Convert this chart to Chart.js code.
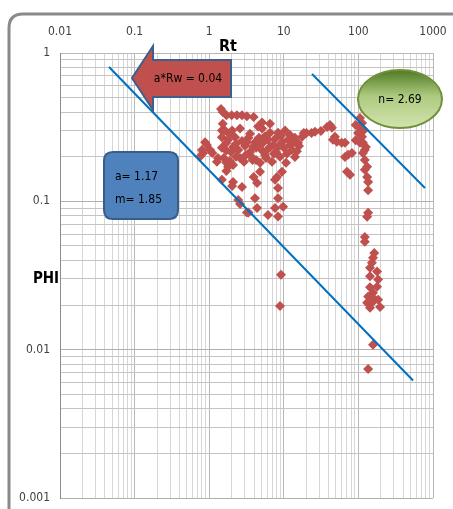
<!DOCTYPE html>
<html>
<head>
<meta charset="utf-8">
<title>Pickett plot</title>
<script src="https://cdn.jsdelivr.net/npm/chart.js@4/dist/chart.umd.min.js"></script>
<style>
  html, body { margin: 0; padding: 0; background: #fff; overflow: hidden; }
  #wrap { width: 453px; height: 509px; }
</style>
</head>
<body>
<div id="wrap"><canvas id="pickett" width="453" height="509"></canvas></div>
<script>
// Pickett plot: resistivity (Rt) vs porosity (PHI), both log
const FONT = '"Liberation Sans Narrow", "DejaVu Sans Condensed", "Liberation Sans", sans-serif';

const decadesX = [0.01, 0.1, 1, 10, 100, 1000];
const decadesY = [0.001, 0.01, 0.1, 1];
const multiples = [1, 2, 3, 4, 5, 6, 7, 8, 9];

// log data points
const rtValues = [
  1.44, 1.52, 1.70, 2.0, 2.35, 2.75, 3.2, 3.95, 1.52, 1.48,
  0.88, 0.93, 0.80, 0.83, 1.03, 1.10, 0.75,
  1.63, 2.03, 2.59, 4.52, 5.11, 6.53, 8.36, 10.4, 12.1,
  1.48, 1.79, 2.22, 2.75, 3.36, 4.11, 5.60, 6.14, 7.62, 9.46, 11.4, 14.1,
  1.48, 1.69, 2.09, 2.45, 3.02, 3.52, 4.25, 5.11, 6.53, 7.85, 10.0, 12.9,
  1.57, 1.90, 2.29, 2.93, 3.81, 4.80, 5.77, 6.95, 8.89, 10.7,
  1.85, 2.29, 3.52, 4.52, 7.2, 8.6, 12.1, 5.6, 3.1, 2.59,
  1.69, 1.96, 3.21, 3.87, 4.65, 5.26, 5.96, 7.39, 9.17, 11.0, 13.3, 16.0, 6.53, 5.11, 4.25, 2.09,
  1.31, 1.27, 1.70, 1.79, 1.70, 1.48, 2.09, 2.03, 2.75, 2.45, 2.59, 3.2,
  3.81, 4.80, 3.95, 4.38, 8.1, 9.46, 7.62, 8.36, 8.36, 4.11, 4.38, 9.8, 7.62, 6.14, 8.36, 3.36,
  9.17, 8.89,
  14.1, 15.0, 15.5, 17.6, 18.5, 20.1, 23.5, 26.2, 31.4, 38.0, 41.6, 44.2,
  48.5, 51.5, 45.6, 59.7, 66.1, 66.1, 81.9, 72.5, 70.4, 77.1,
  105, 112, 105, 99, 112, 115, 105, 122, 115, 122, 131, 122, 131, 135, 135,
  135, 131, 122, 122, 163, 157, 152, 143, 178, 143, 184, 178, 143, 157, 135,
  157, 184, 152, 195, 143, 131, 157, 135,
  92, 119, 92, 126
];
const phiValues = [
  0.42, 0.40, 0.38, 0.38, 0.38, 0.38, 0.375, 0.37, 0.333, 0.30,
  0.25, 0.24, 0.222, 0.212, 0.222, 0.212, 0.20,
  0.30, 0.30, 0.31, 0.32, 0.31, 0.29, 0.29, 0.30, 0.28,
  0.27, 0.26, 0.27, 0.255, 0.268, 0.25, 0.275, 0.26, 0.263, 0.25, 0.26, 0.268,
  0.23, 0.22, 0.232, 0.222, 0.236, 0.215, 0.23, 0.22, 0.232, 0.215, 0.23, 0.222,
  0.196, 0.187, 0.20, 0.185, 0.196, 0.182, 0.196, 0.185, 0.20, 0.182,
  0.285, 0.244, 0.285, 0.24, 0.24, 0.236, 0.24, 0.205, 0.205, 0.196,
  0.247, 0.215, 0.25, 0.233, 0.268, 0.248, 0.222, 0.209, 0.276, 0.209, 0.248, 0.236, 0.333, 0.34, 0.19, 0.176,
  0.196, 0.185, 0.182, 0.171, 0.16, 0.14, 0.135, 0.127, 0.125, 0.102, 0.096, 0.084,
  0.19, 0.158, 0.146, 0.133, 0.146, 0.158, 0.14, 0.123, 0.105, 0.105, 0.09, 0.092, 0.09, 0.081, 0.079, 0.084,
  0.032, 0.0197,
  0.199, 0.218, 0.248, 0.272, 0.289, 0.289, 0.289, 0.294, 0.298, 0.317, 0.327, 0.313,
  0.272, 0.252, 0.26, 0.248, 0.248, 0.199, 0.212, 0.206, 0.158, 0.151,
  0.365, 0.338, 0.313, 0.289, 0.272, 0.248, 0.248, 0.222, 0.212, 0.190, 0.171, 0.163, 0.146, 0.135, 0.119,
  0.0838, 0.0788, 0.0575, 0.0534, 0.0449, 0.0417, 0.0386, 0.0357, 0.0337, 0.0312, 0.0297, 0.0266, 0.0263, 0.0242, 0.0228,
  0.0224, 0.0217, 0.0207, 0.0194, 0.0192, 0.0207, 0.0108, 0.0074,
  0.327, 0.303, 0.258, 0.232
];

// water line (a*Rw = 0.04, m = 1.85) and the shifted line used for n
const waterLineRt = [0.0454, 540];
const waterLinePhi = [0.805, 0.0062];
const satLineRt = [23.9, 781];
const satLinePhi = [0.722, 0.123];

function toPoints(xs, ys) {
  return xs.map((x, i) => ({ x: x, y: ys[i] }));
}

// 1..9 per decade, plus the last decade value
function logTicks(decades) {
  const out = [];
  decades.forEach((d, i) => {
    if (i === decades.length - 1) { out.push(d); return; }
    multiples.forEach(m => out.push(+(m * d).toPrecision(6)));
  });
  return out;
}

function gridColor(decades, major, minor) {
  return ctx => (ctx.tick && decades.includes(ctx.tick.value)) ? major : minor;
}

function roundRectPath(c, x, y, w, h, r) {
  c.beginPath();
  c.moveTo(x + r, y);
  c.lineTo(x + w - r, y);
  c.quadraticCurveTo(x + w, y, x + w, y + r);
  c.lineTo(x + w, y + h - r);
  c.quadraticCurveTo(x + w, y + h, x + w - r, y + h);
  c.lineTo(x + r, y + h);
  c.quadraticCurveTo(x, y + h, x, y + h - r);
  c.lineTo(x, y + r);
  c.quadraticCurveTo(x, y, x + r, y);
  c.closePath();
}

// frame, axis titles and the three callouts
const calloutPlugin = {
  id: 'callouts',
  beforeDraw(chart) {
    const c = chart.ctx;
    c.save();
    c.strokeStyle = '#8a8a8a';
    c.lineWidth = 3;
    roundRectPath(c, 9, 14, 470, 520, 14);
    c.stroke();
    c.restore();
  },
  afterDraw(chart) {
    const c = chart.ctx;
    c.save();

    // axis titles
    c.fillStyle = '#000';
    c.textAlign = 'center';
    c.textBaseline = 'middle';
    c.font = 'bold 16px ' + FONT;
    c.fillText('Rt', 228, 47);
    c.font = 'bold 15px ' + FONT;
    c.fillText('PHI', 46, 279);

    // red arrow pointing left
    c.beginPath();
    c.moveTo(132, 78);
    c.lineTo(153, 46);
    c.lineTo(153, 60);
    c.lineTo(231, 60);
    c.lineTo(231, 97);
    c.lineTo(153, 97);
    c.lineTo(153, 110);
    c.closePath();
    c.fillStyle = '#c0504d';
    c.fill();
    c.strokeStyle = '#3b5f8e';
    c.lineWidth = 2;
    c.stroke();
    c.fillStyle = '#000';
    c.font = '12px ' + FONT;
    c.fillText('a*Rw = 0.04', 188, 79);

    // blue parameter box
    roundRectPath(c, 104, 152, 74, 67, 9);
    c.fillStyle = '#4f81bd';
    c.fill();
    c.strokeStyle = '#385d8a';
    c.lineWidth = 2;
    c.stroke();
    c.fillStyle = '#000';
    c.textAlign = 'left';
    c.fillText('a= 1.17', 115, 177);
    c.fillText('m= 1.85', 115, 200);

    // green ellipse
    const g = c.createLinearGradient(0, 70, 0, 128);
    g.addColorStop(0, '#4f7a22');
    g.addColorStop(0.45, '#aeca80');
    g.addColorStop(1, '#d3e3ad');
    c.beginPath();
    c.ellipse(400, 99, 42, 29, 0, 0, Math.PI * 2);
    c.fillStyle = g;
    c.fill();
    c.strokeStyle = '#71903a';
    c.lineWidth = 2;
    c.stroke();
    c.fillStyle = '#000';
    c.textAlign = 'center';
    c.fillText('n= 2.69', 400, 100);

    c.restore();
  }
};

const ctx = document.getElementById('pickett');
new Chart(ctx, {
  type: 'scatter',
  data: {
    datasets: [
      {
        label: 'Water line',
        type: 'line',
        data: toPoints(waterLineRt, waterLinePhi),
        borderColor: '#0070c0',
        borderWidth: 2,
        pointRadius: 0,
        fill: false,
        order: 0
      },
      {
        label: 'Sw line',
        type: 'line',
        data: toPoints(satLineRt, satLinePhi),
        borderColor: '#0070c0',
        borderWidth: 2,
        pointRadius: 0,
        fill: false,
        order: 0
      },
      {
        label: 'Log data',
        data: toPoints(rtValues, phiValues),
        pointStyle: 'rectRot',
        pointRadius: 5,
        backgroundColor: '#c0504d',
        borderColor: '#c0504d',
        borderWidth: 0,
        order: 1
      }
    ]
  },
  options: {
    responsive: false,
    animation: false,
    layout: {
      padding: { top: 0, left: 0, right: 20, bottom: 11 }
    },
    plugins: {
      legend: { display: false },
      tooltip: { enabled: false }
    },
    scales: {
      x: {
        type: 'logarithmic',
        position: 'top',
        min: 0.01,
        max: 1000,
        afterBuildTicks: s => {
          s.ticks = logTicks(decadesX).map(v => ({ value: v }));
        },
        afterFit: s => {
          s.height = 53;
          s.paddingLeft = 0;
          s.paddingRight = 0;
        },
        ticks: {
          autoSkip: false,
          maxRotation: 0,
          padding: 14,
          color: '#404040',
          font: { family: FONT, size: 12 },
          callback: v => decadesX.includes(v) ? String(v) : ''
        },
        grid: {
          drawTicks: false,
          color: gridColor(decadesX, '#b8b8b8', '#d6d6d6')
        },
        border: { color: '#b8b8b8' }
      },
      y: {
        type: 'logarithmic',
        position: 'left',
        min: 0.001,
        max: 1,
        afterBuildTicks: s => {
          s.ticks = logTicks(decadesY).map(v => ({ value: v }));
        },
        afterFit: s => {
          s.width = 60;
          s.paddingTop = 0;
          s.paddingBottom = 0;
        },
        ticks: {
          autoSkip: false,
          padding: 10,
          color: '#404040',
          font: { family: FONT, size: 12 },
          callback: v => decadesY.includes(v) ? String(v) : ''
        },
        grid: {
          drawTicks: false,
          color: gridColor(decadesY, '#b0b0b0', '#c4c4c4')
        },
        border: { color: '#8c8c8c' }
      }
    }
  },
  plugins: [calloutPlugin]
});
</script>
</body>
</html>
